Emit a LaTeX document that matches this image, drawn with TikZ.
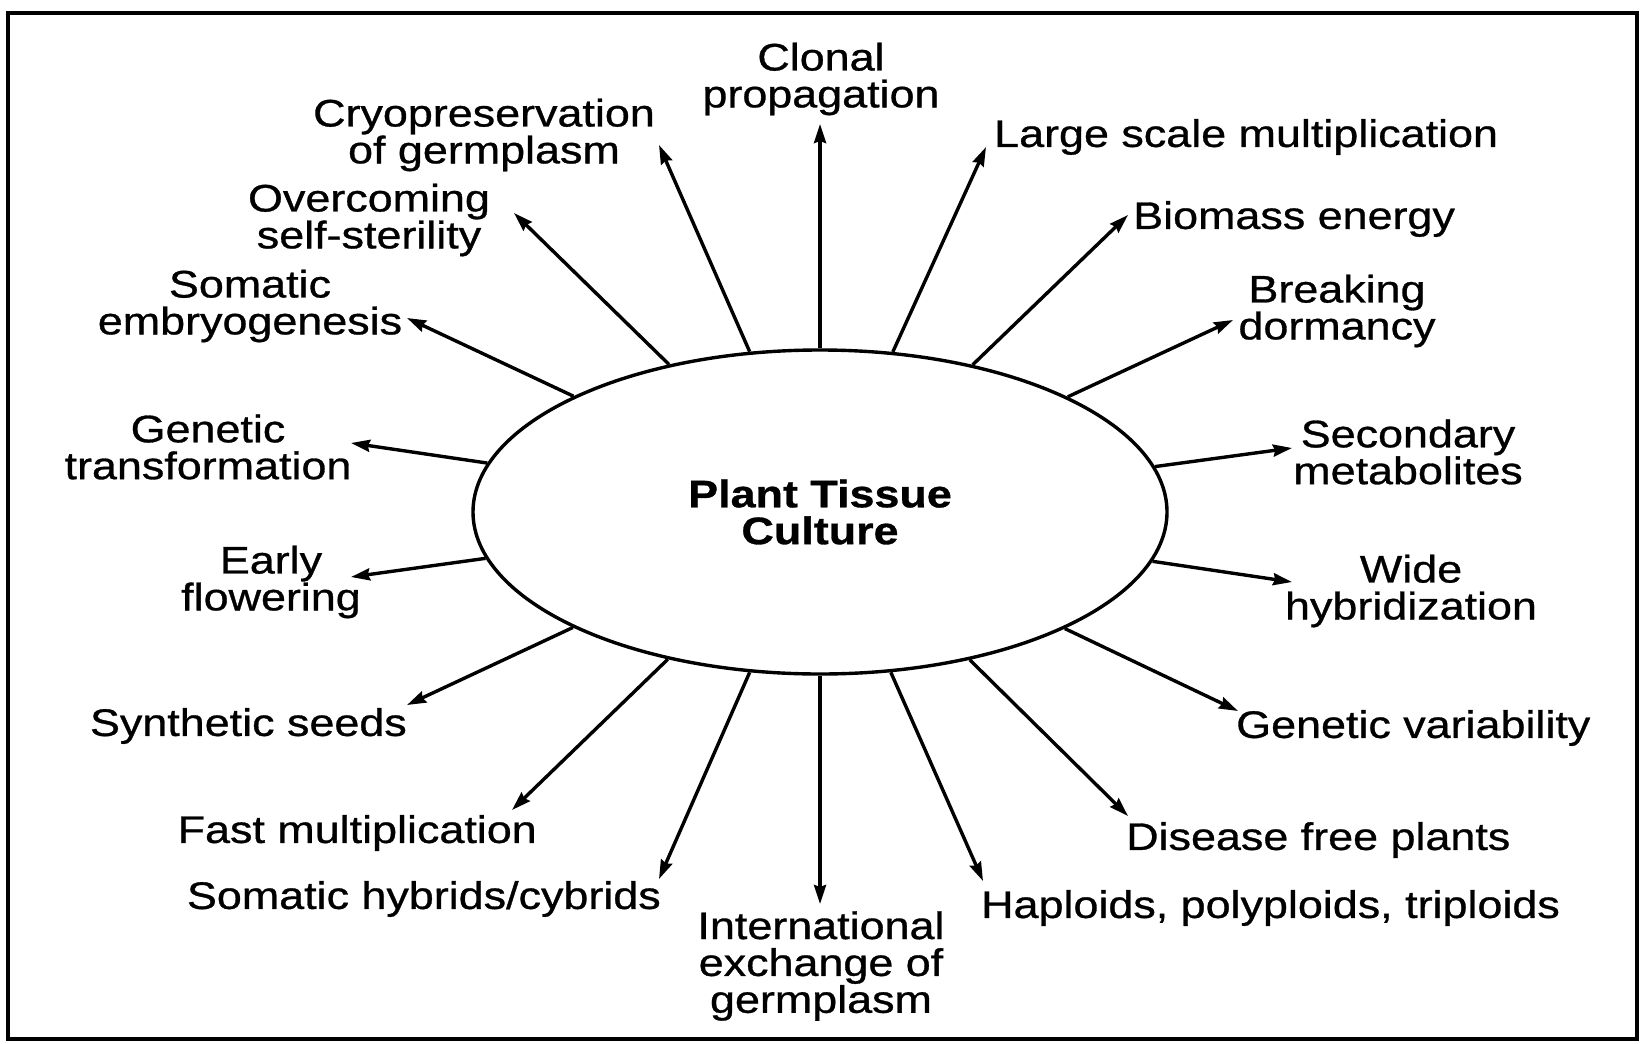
\documentclass[tikz,border=0pt]{standalone}
\usepackage{fontspec}
\setmainfont{Liberation Sans}[FakeStretch=1.17,FakeBold=0.8]
\usetikzlibrary{arrows.meta,shapes.geometric}
\begin{document}
\begin{tikzpicture}[x=1bp,y=-1bp,
  lbl/.style={inner sep=0pt,align=center,font=\fontsize{38.5}{37}\selectfont},
  spoke/.style={line width=3.4bp,-{Stealth[length=19bp,width=12bp,inset=2bp]}},
  hub/.style={draw,ellipse,line width=3.4bp,minimum width=694bp,minimum height=324bp,inner sep=0pt,align=center,font=\fontsize{38.5}{37}\selectfont\bfseries}]
\useasboundingbox (0,0) rectangle (1645,1043);
\draw[line width=3.6bp] (8,13) rectangle (1637,1039);
\node[hub] (pt) at (820,512) {Plant Tissue\\Culture};
% tips
\coordinate (t1) at (820,124);
\coordinate (t2) at (986,147);
\coordinate (t3) at (1128,215);
\coordinate (t4) at (1233,320);
\coordinate (t5) at (1292,448);
\coordinate (t6) at (1292,582);
\coordinate (t7) at (1238,711);
\coordinate (t8) at (1128,816);
\coordinate (t9) at (983,881);
\coordinate (t10) at (820,904);
\coordinate (t11) at (659,879);
\coordinate (t12) at (512,810);
\coordinate (t13) at (407,705);
\coordinate (t14) at (351,577);
\coordinate (t15) at (351,443);
\coordinate (t16) at (407,318);
\coordinate (t17) at (514,213);
\coordinate (t18) at (659,145);
% labels
\node[lbl] (l1) at (821,79) {Clonal\\propagation};
\node[lbl,anchor=west] (l2) at (994,137) {Large scale multiplication};
\node[lbl,anchor=west] (l3) at (1133,219) {Biomass energy};
\node[lbl] (l4) at (1337,311) {Breaking\\dormancy};
\node[lbl] (l5) at (1408,452) {Secondary\\metabolites};
\node[lbl] (l6) at (1411,591) {Wide\\hybridization};
\node[lbl,anchor=west] (l7) at (1236,728) {Genetic variability};
\node[lbl,anchor=west] (l8) at (1126,840) {Disease free plants};
\node[lbl,anchor=west] (l9) at (981,908) {Haploids, polyploids, triploids};
\node[lbl] (l10) at (821,966) {International\\exchange of\\germplasm};
\node[lbl,anchor=east] (l11) at (661,899) {Somatic hybrids/cybrids};
\node[lbl,anchor=east] (l12) at (537,833) {Fast multiplication};
\node[lbl,anchor=east] (l13) at (407,726) {Synthetic seeds};
\node[lbl] (l14) at (271,582) {Early\\flowering};
\node[lbl] (l15) at (208,447) {Genetic\\transformation};
\node[lbl] (l16) at (250,306) {Somatic\\embryogenesis};
\node[lbl] (l17) at (369,220) {Overcoming\\self-sterility};
\node[lbl] (l18) at (484,135) {Cryopreservation\\of germplasm};
% spokes
\foreach \i in {1,...,18} {\draw[spoke] (pt) -- (t\i);}
\end{tikzpicture}
\end{document}
